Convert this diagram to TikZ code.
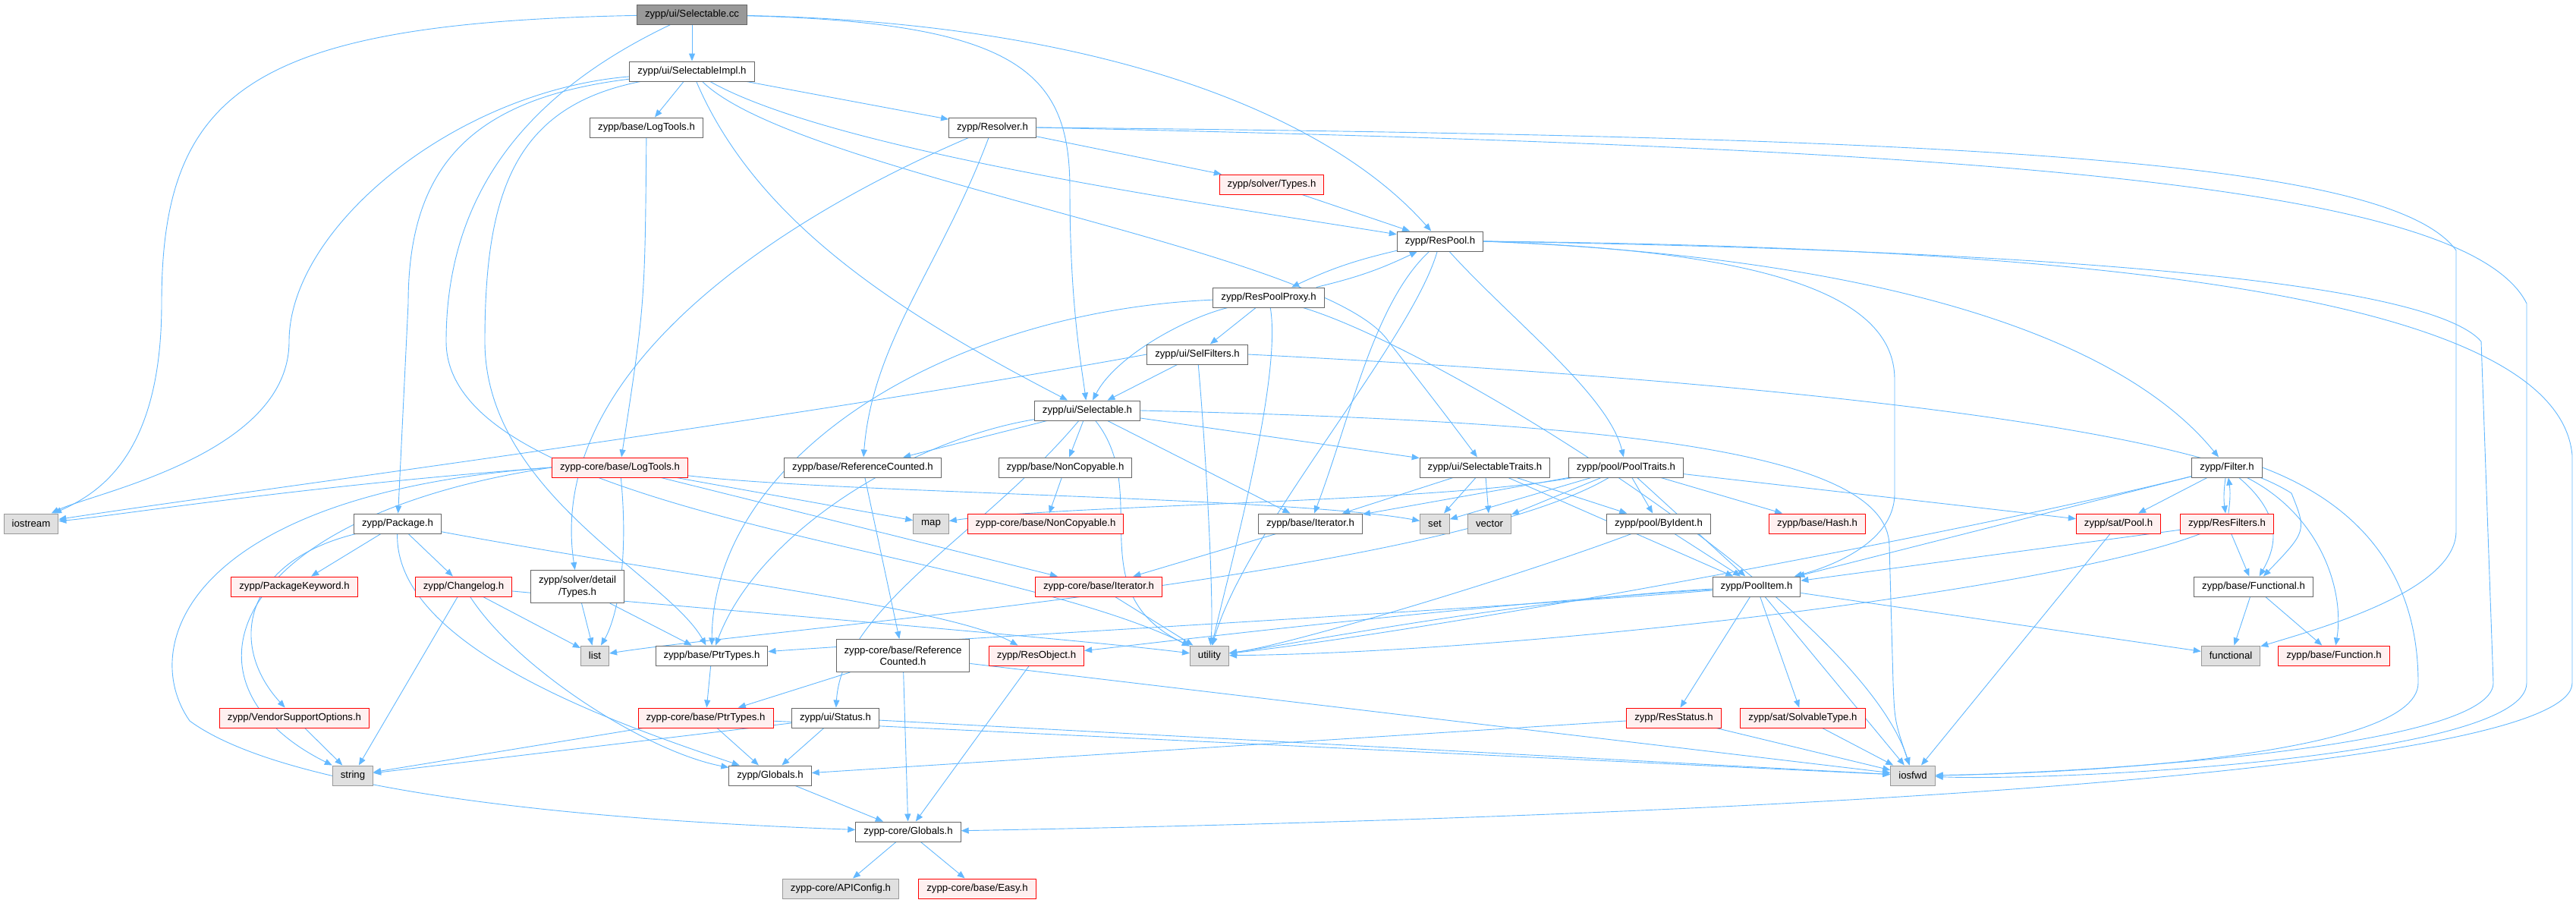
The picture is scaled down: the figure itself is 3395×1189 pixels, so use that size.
\documentclass[tikz,border=0pt]{standalone}
\usepackage{fontspec}
\setmainfont{Liberation Sans}
\usetikzlibrary{arrows.meta}
\definecolor{edgeblue}{HTML}{63B8FF}
\definecolor{boxgray}{HTML}{666666}
\definecolor{sysdraw}{HTML}{999999}
\definecolor{sysfill}{HTML}{E0E0E0}
\definecolor{redfill}{HTML}{FFF0F0}
\definecolor{rootfill}{HTML}{999999}
\pgfdeclarelayer{edgelayer}
\pgfsetlayers{edgelayer,main}
\tikzset{
  hbox/.style={draw=boxgray, fill=white, line width=1pt, minimum height=26pt,
    inner xsep=10.5pt, inner ysep=2pt, font=\fontsize{13.2}{15.3}\selectfont},
  hred/.style={hbox, draw=red, fill=redfill},
  hsys/.style={hbox, draw=sysdraw, fill=sysfill},
  hroot/.style={hbox, fill=rootfill},
  htwo/.style={hbox, align=center, minimum height=43pt},
  incl/.style={draw=edgeblue, line width=0.9pt, -{Triangle[length=10pt,width=8pt]}}
}
\begin{document}
\begin{tikzpicture}[x=1pt, y=-1pt]
\useasboundingbox (0,0) rectangle (3395,1189);

        \node (sc) at (912,19) [hroot] {zypp/ui/Selectable.cc};
        \node (simpl) at (912,94) [hbox] {zypp/ui/SelectableImpl.h};
        \node (blog) at (852,168) [hbox] {zypp/base/LogTools.h};
        \node (resolver) at (1308,168) [hbox] {zypp/Resolver.h};
        \node (stypes) at (1676,243) [hred] {zypp/solver/Types.h};
        \node (respool) at (1898,318) [hbox] {zypp/ResPool.h};
        \node (proxy) at (1672,392) [hbox] {zypp/ResPoolProxy.h};
        \node (selfilters) at (1578,467) [hbox] {zypp/ui/SelFilters.h};
        \node (sel) at (1433,541) [hbox] {zypp/ui/Selectable.h};
        \node (clog) at (817,616) [hred] {zypp-core/base/LogTools.h};
        \node (refc) at (1137,616) [hbox] {zypp/base/ReferenceCounted.h};
        \node (noncopy) at (1404,616) [hbox] {zypp/base/NonCopyable.h};
        \node (seltraits) at (1957,616) [hbox] {zypp/ui/SelectableTraits.h};
        \node (pooltraits) at (2143,616) [hbox] {zypp/pool/PoolTraits.h};
        \node (filter) at (2935,616) [hbox] {zypp/Filter.h};
        \node (stdios) at (41,690) [hsys] {iostream};
        \node (package) at (524,690) [hbox] {zypp/Package.h};
        \node (stdmap) at (1227,690) [hsys] {map};
        \node (cnoncopy) at (1378,690) [hred] {zypp-core/base/NonCopyable.h};
        \node (biter) at (1727,690) [hbox] {zypp/base/Iterator.h};
        \node (stdset) at (1891,690) [hsys] {set};
        \node (stdvector) at (1963,690) [hsys] {vector};
        \node (byident) at (2186,690) [hbox] {zypp/pool/ByIdent.h};
        \node (hash) at (2395,690) [hred] {zypp/base/Hash.h};
        \node (satpool) at (2792,690) [hred] {zypp/sat/Pool.h};
        \node (resfilters) at (2935,690) [hred] {zypp/ResFilters.h};
        \node (pkgkw) at (388,773) [hred] {zypp/PackageKeyword.h};
        \node (changelog) at (611,773) [hred] {zypp/Changelog.h};
        \node (sdtypes) at (761,773) [htwo] {zypp/solver/detail\\/Types.h};
        \node (citer) at (1448,773) [hred] {zypp-core/base/Iterator.h};
        \node (poolitem) at (2315,773) [hbox] {zypp/PoolItem.h};
        \node (functional) at (2970,773) [hbox] {zypp/base/Functional.h};
        \node (stdlist) at (784,864) [hsys] {list};
        \node (ptrtypes) at (938,864) [hbox] {zypp/base/PtrTypes.h};
        \node (crefc) at (1190,864) [htwo] {zypp-core/base/Reference\\Counted.h};
        \node (resobject) at (1366,864) [hred] {zypp/ResObject.h};
        \node (stdutil) at (1594,864) [hsys] {utility};
        \node (stdfunc) at (2940,864) [hsys] {functional};
        \node (function) at (3076,864) [hred] {zypp/base/Function.h};
        \node (vendor) at (388,946) [hred] {zypp/VendorSupportOptions.h};
        \node (cptrtypes) at (930,946) [hred] {zypp-core/base/PtrTypes.h};
        \node (status) at (1101,946) [hbox] {zypp/ui/Status.h};
        \node (resstatus) at (2206,946) [hred] {zypp/ResStatus.h};
        \node (solvtype) at (2376,946) [hred] {zypp/sat/SolvableType.h};
        \node (stdstring) at (465,1022) [hsys] {string};
        \node (globals) at (1015,1022) [hbox] {zypp/Globals.h};
        \node (stdiosfwd) at (2521,1022) [hsys] {iosfwd};
        \node (cglobals) at (1197,1096) [hbox] {zypp-core/Globals.h};
        \node (apiconfig) at (1108,1171) [hsys] {zypp-core/APIConfig.h};
        \node (easy) at (1288,1171) [hred] {zypp-core/base/Easy.h};

\begin{pgfonlayer}{edgelayer}
        % top levels
        \path (sc) edge[incl] (simpl);
        \draw[incl] (sc) .. controls (330,30) and (213,120) .. (213,400) .. controls (213,600) and (130,650) .. (stdios);
        \draw[incl] (sc) .. controls (1350,30) and (1410,100) .. (1410,250) .. controls (1410,400) and (1425,480) .. (sel);
        \draw[incl] (sc) .. controls (1450,30) and (1750,150) .. (respool);
        \draw[incl] (sc) .. controls (700,120) and (588,250) .. (588,450) .. controls (588,680) and (1300,720) .. (stdutil);
        \path (simpl) edge[incl] (blog) edge[incl] (resolver);
        \draw[incl] (simpl) .. controls (600,120) and (381,300) .. (381,450) .. controls (381,600) and (120,650) .. (stdios);
        \draw[incl] (simpl) .. controls (620,130) and (538,220) .. (538,400) -- (package);
        \draw[incl] (simpl) .. controls (680,140) and (639,250) .. (639,450) .. controls (639,650) and (880,760) .. (ptrtypes);
        \draw[incl] (simpl) .. controls (1000,300) and (1200,420) .. (sel);
        \draw[incl] (simpl) .. controls (1100,200) and (1600,270) .. (respool);
        \draw[incl] (simpl) .. controls (1050,230) and (1750,330) .. (1830,450) .. controls (1900,540) .. (seltraits);
        \draw[incl] (blog) .. controls (850,400) .. (clog);
        \path (resolver) edge[incl] (stypes) (stypes) edge[incl] (respool);
        \draw[incl] (resolver) .. controls (1240,350) and (1150,450) .. (refc);
        \draw[incl] (resolver) .. controls (1000,300) and (720,500) .. (sdtypes);
        \draw[incl] (resolver.east) .. controls (2600,180) and (3150,210) .. (3237,330) -- (3237,700) .. controls (3237,780) and (3050,830) .. (stdfunc);
        \draw[incl] (resolver.east) .. controls (2600,195) and (3250,240) .. (3330,400) -- (3330,900) .. controls (3330,1000) and (2700,1030) .. (stdiosfwd);

        % pool
        \path (respool) edge[incl, bend right=6] (proxy) (proxy) edge[incl, bend right=6] (respool);
        \draw[incl] (respool) .. controls (1810,400) and (1780,550) .. (biter);
        \draw[incl] (respool) .. controls (1860,450) and (1640,700) .. (stdutil);
        \draw[incl] (respool) .. controls (1990,420) and (2120,520) .. (pooltraits);
        \draw[incl] (respool.east) .. controls (2300,330) and (2497,380) .. (2497,500) -- (2497,650) .. controls (2497,720) and (2400,750) .. (poolitem);
        \draw[incl] (respool.east) .. controls (2500,340) and (2800,450) .. (filter);
        \draw[incl] (respool.east) .. controls (2700,330) and (3200,370) .. (3270,450) -- (3286,900) .. controls (3286,990) and (2700,1020) .. (stdiosfwd);
        \draw[incl] (respool.east) .. controls (2700,325) and (3370,380) .. (3390,600) -- (3390,900) .. controls (3390,1000) and (2600,1070) .. (cglobals);
        \path (proxy) edge[incl] (selfilters);
        \draw[incl] (proxy) .. controls (1560,420) and (1470,470) .. (sel);
        \draw[incl] (proxy) .. controls (1250,410) and (940,600) .. (ptrtypes);
        \draw[incl] (proxy) .. controls (1690,500) and (1620,750) .. (stdutil);
        \draw[incl] (proxy) .. controls (1900,460) and (2450,800) .. (stdiosfwd);
        \path (selfilters) edge[incl] (sel);
        \draw[incl] (selfilters) .. controls (1590,600) and (1600,800) .. (stdutil);
        \draw[incl] (selfilters.east) .. controls (2300,500) and (2880,560) .. (3020,650) .. controls (3040,700) .. (functional);
        \draw[incl] (selfilters.west) .. controls (1000,560) and (300,650) .. (stdios);

        % ui/Selectable.h
        \path (sel) edge[incl] (refc) edge[incl] (noncopy) edge[incl] (biter) edge[incl] (seltraits);
        \draw[incl] (sel) .. controls (1200,580) and (1000,700) .. (ptrtypes);
        \draw[incl] (sel) .. controls (1300,700) and (1110,800) .. (status);
        \draw[incl] (sel) .. controls (1520,650) and (1420,780) .. (stdutil);
        \draw[incl] (sel.east) .. controls (2100,555) and (2490,590) .. (2490,720) -- (2495,900) .. controls (2497,950) .. (stdiosfwd);

        \path (clog) edge[incl] (stdmap) edge[incl] (citer);
        \draw[incl] (clog) .. controls (1100,650) and (1700,655) .. (stdset);
        \draw[incl] (clog.west) .. controls (400,640) and (150,680) .. (stdios);
        \draw[incl] (clog) .. controls (830,750) and (810,820) .. (stdlist);
        \draw[incl] (clog.west) .. controls (300,680) and (220,900) .. (stdstring);
        \draw[incl] (clog.west) .. controls (250,650) and (180,850) .. (250,950) .. controls (400,1060) and (900,1085) .. (cglobals);
        \path (package) edge[incl] (pkgkw) edge[incl] (changelog);
        \draw[incl] (package) .. controls (320,740) and (300,850) .. (vendor);
        \draw[incl] (package) .. controls (520,850) and (800,950) .. (globals);
        \draw[incl] (package) .. controls (900,760) and (1250,800) .. (resobject);
        \path (changelog) edge[incl] (stdlist) edge[incl] (stdstring);
        \draw[incl] (changelog) .. controls (680,880) and (850,990) .. (globals);
        \draw[incl] (changelog) .. controls (900,800) and (1400,840) .. (stdutil);
        \path (sdtypes) edge[incl] (stdlist) edge[incl] (ptrtypes);
        \path (refc) edge[incl] (crefc) (noncopy) edge[incl] (cnoncopy);
        \path (biter) edge[incl] (citer) (citer) edge[incl] (stdutil);

        % traits
        \path (seltraits) edge[incl] (stdset) edge[incl] (stdvector) edge[incl] (biter)
              edge[incl] (byident) edge[incl] (poolitem);
        \path (pooltraits) edge[incl] (stdset) edge[incl] (stdvector) edge[incl] (biter)
              edge[incl] (byident) edge[incl] (hash) edge[incl] (satpool) edge[incl] (poolitem);
        \draw[incl] (pooltraits) .. controls (1900,662) and (1400,665) .. (stdmap);
        \draw[incl] (pooltraits) .. controls (1900,760) and (1000,830) .. (stdlist);
        \path (byident) edge[incl] (poolitem);
        \draw[incl] (byident) .. controls (2000,760) and (1700,850) .. (stdutil);

        % PoolItem.h
        \path (poolitem) edge[incl] (resstatus) edge[incl] (solvtype) edge[incl] (stdiosfwd) edge[incl] (stdfunc);
        \draw[incl] (poolitem) .. controls (2000,790) and (1700,850) .. (stdutil);
        \draw[incl] (poolitem) .. controls (1900,800) and (1500,850) .. (resobject);
        \draw[incl] (poolitem) .. controls (2000,800) and (1200,845) .. (ptrtypes);

        % Filter.h
        \path (filter) edge[incl] (poolitem) edge[incl] (satpool) edge[incl, bend right=8] (resfilters)
              (resfilters) edge[incl, bend right=8] (filter);
        \draw[incl] (filter) .. controls (3010,680) and (3000,720) .. (functional);
        \draw[incl] (filter) .. controls (3060,680) and (3090,780) .. (function);
        \draw[incl] (filter.east) .. controls (3150,680) and (3187,800) .. (3187,900) .. controls (3187,1000) and (2700,1020) .. (stdiosfwd);
        \draw[incl] (filter) .. controls (2600,700) and (1900,830) .. (stdutil);
        \path (resfilters) edge[incl] (poolitem) edge[incl] (functional);
        \draw[incl] (resfilters) .. controls (2700,780) and (2000,860) .. (stdutil);
        \path (functional) edge[incl] (stdfunc) edge[incl] (function);

        % bottom
        \path (ptrtypes) edge[incl] (cptrtypes);
        \path (crefc) edge[incl] (cptrtypes) edge[incl] (cglobals) edge[incl] (stdiosfwd);
        \path (resobject) edge[incl] (cglobals);
        \path (cptrtypes) edge[incl] (stdstring) edge[incl] (globals) edge[incl] (stdiosfwd);
        \path (status) edge[incl] (stdstring) edge[incl] (globals) edge[incl] (stdiosfwd);
        \path (vendor) edge[incl] (stdstring);
        \path (resstatus) edge[incl] (globals) edge[incl] (stdiosfwd);
        \path (solvtype) edge[incl] (stdiosfwd) (satpool) edge[incl] (stdiosfwd);
        \path (globals) edge[incl] (cglobals);
        \path (cglobals) edge[incl] (apiconfig) edge[incl] (easy);
\end{pgfonlayer}
\end{tikzpicture}
\end{document}
